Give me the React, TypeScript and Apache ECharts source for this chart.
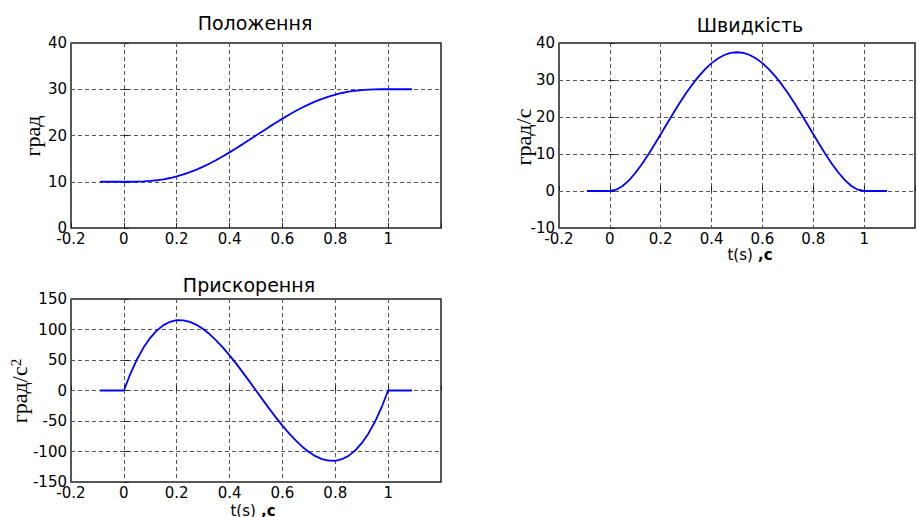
import React, { useEffect, useRef } from "react";
import * as echarts from "echarts";

const timeValues = [-0.09, 0, 0.025, 0.05, 0.075, 0.1, 0.125, 0.15, 0.175, 0.2, 0.225, 0.25, 0.275, 0.3, 0.325, 0.35, 0.375, 0.4, 0.425, 0.45, 0.475, 0.5, 0.525, 0.55, 0.575, 0.6, 0.625, 0.65, 0.675, 0.7, 0.725, 0.75, 0.775, 0.8, 0.825, 0.85, 0.875, 0.9, 0.925, 0.95, 0.975, 1, 1.09];
const positionValues = [10, 10, 10.003, 10.023, 10.075, 10.171, 10.321, 10.532, 10.81, 11.158, 11.578, 12.07, 12.632, 13.262, 13.954, 14.703, 15.504, 16.349, 17.229, 18.137, 19.064, 20, 20.936, 21.863, 22.771, 23.651, 24.496, 25.297, 26.046, 26.738, 27.368, 27.93, 28.422, 28.842, 29.19, 29.468, 29.679, 29.829, 29.925, 29.977, 29.997, 30, 30];
const velocityValues = [0, 0, 0.356, 1.354, 2.888, 4.86, 7.178, 9.754, 12.507, 15.36, 18.244, 21.094, 23.85, 26.46, 28.875, 31.054, 32.959, 34.56, 35.831, 36.754, 37.313, 37.5, 37.313, 36.754, 35.831, 34.56, 32.959, 31.054, 28.875, 26.46, 23.85, 21.094, 18.244, 15.36, 12.507, 9.754, 7.178, 4.86, 2.888, 1.354, 0.356, 0, 0];
const accelValues = [0, 0, 27.79, 51.3, 70.76, 86.4, 98.44, 107.1, 112.61, 115.2, 115.09, 112.5, 107.66, 100.8, 92.14, 81.9, 70.31, 57.6, 43.99, 29.7, 14.96, 0, -14.96, -29.7, -43.99, -57.6, -70.31, -81.9, -92.14, -100.8, -107.66, -112.5, -115.09, -115.2, -112.61, -107.1, -98.44, -86.4, -70.76, -51.3, -27.79, 0, 0];

const titles = ["Положення", "Швидкість", "Прискорення"];
const yNames = ["град", "град/с", "град/с"];
const xName = "t(s)";
const yRanges = [
  { min: 0, max: 40, interval: 10 },
  { min: -10, max: 40, interval: 10 },
  { min: -150, max: 150, interval: 50 },
];

const toPairs = (ys: number[]) => timeValues.map((t, i) => [t, ys[i]]);

export default function App() {
  const ref = useRef<HTMLDivElement>(null);
  useEffect(() => {
    if (!ref.current) return;
    const chart = echarts.init(ref.current, undefined, { renderer: "svg" });
    const grids = [
      { left: 71, top: 43, width: 370, height: 185 },
      { left: 559, top: 43, width: 370, height: 185 },
      { left: 71, top: 299, width: 370, height: 183 },
    ];
    const tickFont = { fontFamily: "DejaVu Sans", fontSize: 15, color: "#000" };
    const xAxes = grids.map((_, i) => ({
      type: "value",
      gridIndex: i,
      min: -0.2,
      max: 1.2,
      interval: 0.2,
      axisLine: { show: false },
      axisTick: { show: true, inside: true, length: 5, lineStyle: { color: "#222" } },
      axisLabel: {
        ...tickFont,
        margin: 3,
        formatter: (v: number) => (Math.abs(v - 1.2) < 1e-6 ? "" : String(+v.toFixed(1))),
      },
      splitLine: { show: true, lineStyle: { color: "#555", type: [4, 3], width: 1 } },
    }));
    const yAxes = grids.map((_, i) => ({
      type: "value",
      gridIndex: i,
      ...yRanges[i],
      axisLine: { show: false },
      axisTick: { show: true, inside: true, length: 5, lineStyle: { color: "#222" } },
      axisLabel: { ...tickFont, margin: 4 },
      splitLine: { show: true, lineStyle: { color: "#555", type: [4, 3], width: 1 } },
    }));
    const seriesData = [positionValues, velocityValues, accelValues];
    const serifFont = "22px 'Liberation Serif'";
    const xLabelRich = {
      a: { fontFamily: "DejaVu Sans", fontSize: 15, fill: "#000", color: "#000" },
      b: { fontFamily: "DejaVu Sans", fontSize: 15, fontWeight: "bold", fill: "#000", color: "#000" },
    };
    chart.setOption({
      animation: false,
      grid: grids.map((g) => ({ ...g, show: true, borderColor: "#222", borderWidth: 1.5, backgroundColor: "transparent" })),
      xAxis: xAxes,
      yAxis: yAxes,
      series: seriesData.map((ys, i) => ({
        type: "line",
        xAxisIndex: i,
        yAxisIndex: i,
        data: toPairs(ys),
        showSymbol: false,
        symbol: "none",
        lineStyle: { color: "#0000ff", width: 1.8 },
      })),
      graphic: [
        { type: "text", x: 255, y: 23, style: { text: titles[0], font: "19px 'DejaVu Sans'", fill: "#000", align: "center", verticalAlign: "middle" } },
        { type: "text", x: 750, y: 25, style: { text: titles[1], font: "19px 'DejaVu Sans'", fill: "#000", align: "center", verticalAlign: "middle" } },
        { type: "text", x: 249, y: 285, style: { text: titles[2], font: "19px 'DejaVu Sans'", fill: "#000", align: "center", verticalAlign: "middle" } },
        { type: "text", x: 32, y: 136, rotation: Math.PI / 2, style: { text: yNames[0], font: serifFont, fill: "#000", align: "center", verticalAlign: "middle" } },
        { type: "text", x: 523, y: 137, rotation: Math.PI / 2, style: { text: yNames[1], font: serifFont, fill: "#000", align: "center", verticalAlign: "middle" } },
        {
          type: "text",
          x: 19,
          y: 391,
          rotation: Math.PI / 2,
          style: {
            text: "{a|" + yNames[2] + "}{b|2}",
            align: "center",
            verticalAlign: "middle",
            rich: {
              a: { font: serifFont, fill: "#000", color: "#000", verticalAlign: "bottom" },
              b: { fontFamily: "Liberation Serif", fontSize: 15, fill: "#000", color: "#000", verticalAlign: "top" },
            },
          },
        },
        {
          type: "text",
          x: 750,
          y: 255,
          style: { text: "{a|" + xName + "}{b| ,c}", align: "center", verticalAlign: "middle", rich: xLabelRich },
        },
        {
          type: "text",
          x: 253,
          y: 511,
          style: { text: "{a|" + xName + "}{b| ,c}", align: "center", verticalAlign: "middle", rich: xLabelRich },
        },
      ],
    });
    return () => chart.dispose();
  }, []);
  return (
    <div
      ref={ref}
      style={{ position: "fixed", left: 0, top: 0, width: 918, height: 517, background: "#fff" }}
    />
  );
}
